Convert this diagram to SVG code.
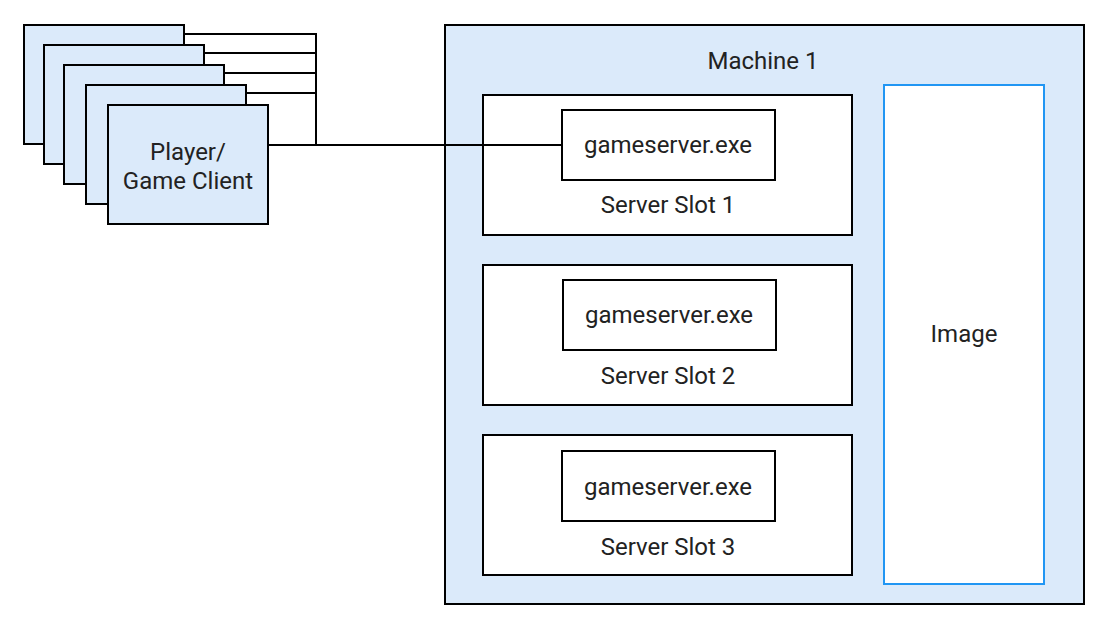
<svg xmlns="http://www.w3.org/2000/svg" width="1110" height="630" viewBox="0 0 1110 630">
<style>
.b{fill:#dbeafa;stroke:#000;stroke-width:2}
.w{fill:#fff;stroke:#000;stroke-width:2}
text{font-family:Roboto,"Liberation Sans",sans-serif;font-size:24px;fill:#222;text-anchor:middle}
.c line,.c polyline{stroke:#000;stroke-width:2;fill:none}
</style>
<rect width="1110" height="630" fill="#fff"/>
<g id="machine"><rect class="b" x="445" y="25" width="639" height="579"/><text x="763" y="69">Machine 1</text></g>
<g id="image"><rect x="884" y="85" width="160" height="499" fill="#fff" stroke="#2196f3" stroke-width="2"/><text x="964" y="342">Image</text></g>
<g id="slot1"><rect class="w" x="483" y="95" width="369" height="140"/><text x="668" y="213">Server Slot 1</text></g>
<g id="gs1"><rect class="w" x="562" y="110" width="213" height="70"/><text x="668" y="153">gameserver.exe</text></g>
<g id="slot2"><rect class="w" x="483" y="265" width="369" height="140"/><text x="668" y="384">Server Slot 2</text></g>
<g id="gs2"><rect class="w" x="563" y="280" width="213" height="70"/><text x="669" y="323">gameserver.exe</text></g>
<g id="slot3"><rect class="w" x="483" y="435" width="369" height="140"/><text x="668" y="555">Server Slot 3</text></g>
<g id="gs3"><rect class="w" x="562" y="451" width="213" height="70"/><text x="668" y="495">gameserver.exe</text></g>
<g class="c" id="connectors">
<polyline points="184,34 316,34 316,145"/>
<line x1="204" y1="53" x2="316" y2="53"/>
<line x1="224" y1="73" x2="316" y2="73"/>
<line x1="246" y1="93" x2="316" y2="93"/>
<line x1="268" y1="145" x2="562" y2="145"/>
</g>
<g id="clients">
<rect class="b" x="24" y="25" width="160" height="119"/>
<rect class="b" x="44" y="45" width="160" height="119"/>
<rect class="b" x="64" y="65" width="160" height="119"/>
<rect class="b" x="86" y="85" width="160" height="119"/>
<rect class="b" x="108" y="105" width="160" height="119"/>
<text x="188" y="160">Player/</text><text x="188" y="189">Game Client</text>
</g>
</svg>
